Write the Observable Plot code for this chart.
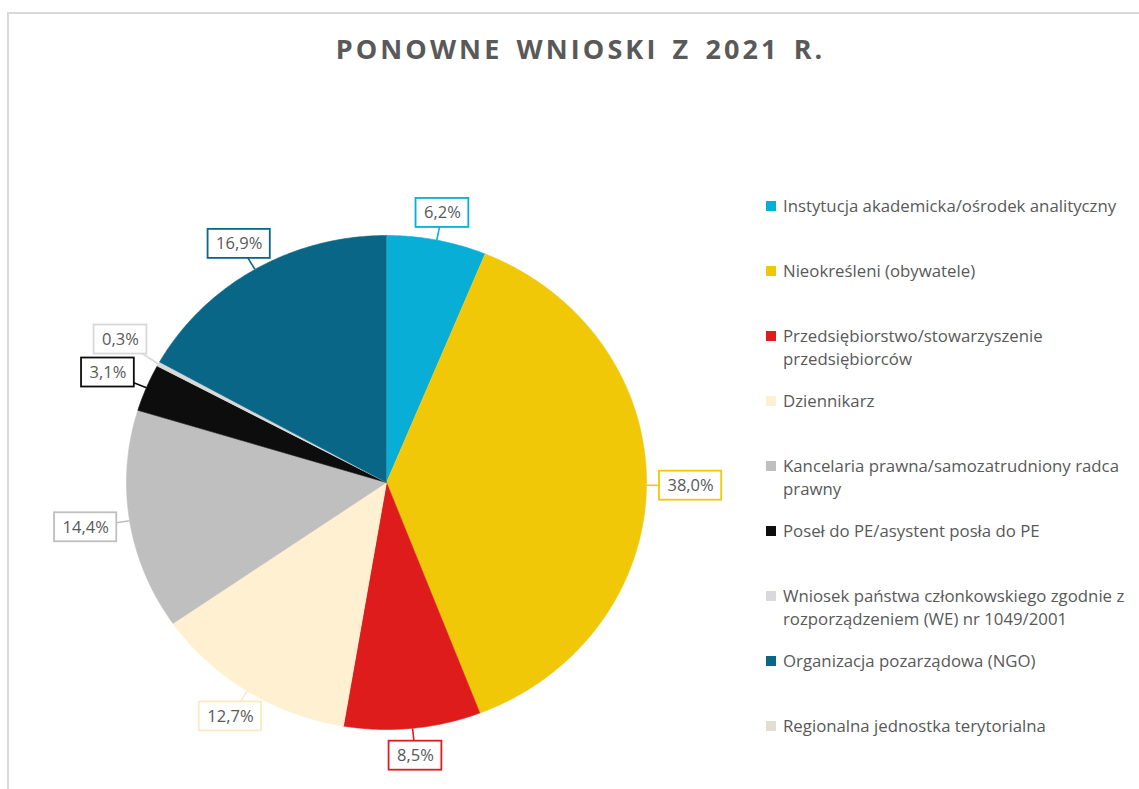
<!DOCTYPE html>
<html>
<head>
<meta charset="utf-8">
<script src="https://cdn.jsdelivr.net/npm/d3@7"></script>
<script src="https://cdn.jsdelivr.net/npm/@observablehq/plot@0.6"></script>
<style>
  html, body { margin: 0; padding: 0; background: #fff; overflow: hidden; width: 1139px; height: 789px; }
  #frame { position: absolute; left: 7px; top: 12px; width: 1300px; height: 1000px; border-left: 2px solid #d9d9d9; border-top: 2px solid #d9d9d9; }
  #title { position: absolute; left: 0; width: 1139px; top: 30px; text-align: center; padding-left: 22px; box-sizing: border-box;
    font-family: "Open Sans", sans-serif; font-weight: 700; font-size: 27px; letter-spacing: 3.1px; word-spacing: 4px; color: #595959; white-space: nowrap; }
  #chart { position: absolute; left: 0; top: 0; }
  #legend { position: absolute; left: 766px; top: 194px; width: 372px; font-family: "Open Sans", sans-serif; font-size: 16.8px; color: #595959; }
  .item { position: relative; height: 65px; }
  .sw { position: absolute; left: 0; top: 7px; width: 10px; height: 10px; }
  .lab { position: absolute; left: 17px; top: 0; width: 352px; line-height: 23px; }
</style>
</head>
<body>
<div id="frame"></div>
<div id="title">PONOWNE WNIOSKI Z 2021 R.</div>
<div id="chart"></div>
<div id="legend"></div>
<script>
const categories = [
  "Instytucja akademicka/ośrodek analityczny",
  "Nieokreśleni (obywatele)",
  "Przedsiębiorstwo/stowarzyszenie przedsiębiorców",
  "Dziennikarz",
  "Kancelaria prawna/samozatrudniony radca prawny",
  "Poseł do PE/asystent posła do PE",
  "Wniosek państwa członkowskiego zgodnie z rozporządzeniem (WE) nr 1049/2001",
  "Organizacja pozarządowa (NGO)",
  "Regionalna jednostka terytorialna"
];
const values = [6.2, 38.0, 8.5, 12.7, 14.4, 3.1, 0.3, 16.9, 0];
const valueLabels = ["6,2%", "38,0%", "8,5%", "12,7%", "14,4%", "3,1%", "0,3%", "16,9%", ""];
const colors = ["#09aed6", "#f0c808", "#de1c1c", "#fff0d2", "#bfbfbf", "#0d0d0d", "#d9d9d9", "#0a6687", "#e3ddd2"];
const labelBorders = ["#09aed6", "#f0c808", "#de1c1c", "#ffe9c2", "#bfbfbf", "#0d0d0d", "#d9d9d9", "#0a6687", "#e3ddd2"];

// layout
const XR = [126, 646], YR = [235, 729];
const kx = (XR[1] - XR[0]) / 2, ky = (YR[1] - YR[0]) / 2;
const FONT = '"Open Sans", sans-serif';
const labelFontSize = 16.5;
const gap = 13;

const total = d3.sum(values);
const slices = [];
const labels = [];
const ctx = document.createElement("canvas").getContext("2d");
ctx.font = `${labelFontSize}px ${FONT}`;
let acc = 0;
categories.forEach((cat, i) => {
  const v = values[i];
  const a0 = acc / total * 2 * Math.PI, a1 = (acc + v) / total * 2 * Math.PI;
  acc += v;
  if (v <= 0) return;
  slices.push({cat, i, x: 0, y: 0});
  const n = Math.max(2, Math.ceil((a1 - a0) / (Math.PI / 360)));
  for (let k = 0; k <= n; k++) {
    const a = a0 + (a1 - a0) * k / n;
    slices.push({cat, i, x: Math.sin(a), y: -Math.cos(a)});
  }
  const am = (a0 + a1) / 2;
  const tw = ctx.measureText(valueLabels[i]).width;
  const hwPx = tw / 2 + 8, hhPx = 14.5;
  // direction in pixel space
  let dx = Math.sin(am) * kx, dy = -Math.cos(am) * ky;
  const len = Math.hypot(dx, dy); dx /= len; dy /= len;
  const t = Math.min(Math.abs(dx) > 1e-6 ? hwPx / Math.abs(dx) : Infinity, Math.abs(dy) > 1e-6 ? hhPx / Math.abs(dy) : Infinity) + gap;
  const ax = Math.sin(am), ay = -Math.cos(am);
  labels.push({cat, i, text: valueLabels[i], ax, ay,
    lx: ax + dx * t / kx, ly: ay + dy * t / ky, hw: hwPx / kx, hh: hhPx / ky});
});
// simple collision avoidance: push labels apart vertically
const sorted = labels.slice().sort((a, b) => b.ly - a.ly);
for (let j = 1; j < sorted.length; j++) {
  for (let m = 0; m < j; m++) {
    const a = sorted[m], b = sorted[j];
    if (Math.abs(a.lx - b.lx) < a.hw + b.hw && b.ly > a.ly - (a.hh + b.hh + 4 / ky)) {
      b.ly = a.ly - (a.hh + b.hh + 4 / ky);
    }
  }
}
labels.forEach(d => { d.x1 = d.lx - d.hw; d.x2 = d.lx + d.hw; d.y1 = d.ly - d.hh; d.y2 = d.ly + d.hh; d.border = labelBorders[d.i]; });

const chart = Plot.plot({
  width: 760, height: 789, margin: 0,
  x: {domain: [-1, 1], range: XR, axis: null},
  y: {domain: [-1, 1], range: YR, axis: null},
  color: {domain: categories, range: colors},
  style: {background: "transparent", fontFamily: FONT},
  marks: [
    Plot.line(slices, {x: "x", y: "y", z: "cat", fill: "cat", stroke: "cat", strokeWidth: 0.6, curve: "linear"}),
    Plot.link(labels, {x1: "ax", y1: "ay", x2: "lx", y2: "ly", stroke: "border", strokeWidth: 1.6}),
    Plot.rect(labels, {x1: "x1", x2: "x2", y1: "y1", y2: "y2", fill: "white", stroke: "border", strokeWidth: 1.8}),
    Plot.text(labels, {x: "lx", y: "ly", text: "text", fill: "#595959", fontSize: labelFontSize, fontFamily: FONT})
  ]
});
document.getElementById("chart").appendChild(chart);

const legend = document.getElementById("legend");
categories.forEach((cat, i) => {
  const item = document.createElement("div");
  item.className = "item";
  const sw = document.createElement("div");
  sw.className = "sw";
  sw.style.background = colors[i];
  const lab = document.createElement("div");
  lab.className = "lab";
  lab.textContent = cat;
  item.appendChild(sw);
  item.appendChild(lab);
  legend.appendChild(item);
});
</script>
</body>
</html>
